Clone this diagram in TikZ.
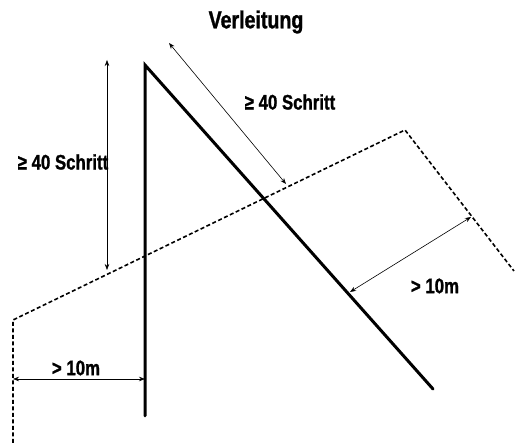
\documentclass[tikz,border=0pt]{standalone}
\usepackage{fontspec}
\setmainfont{Liberation Sans}
\newfontfamily\labfont{Liberation Sans}[FakeStretch=0.8, FakeBold=1.2]
\usetikzlibrary{arrows.meta}

\begin{document}
\begin{tikzpicture}[x=1pt, y=-1pt,
    pfad/.style={line width=3pt, line cap=round},
    grenze/.style={line width=1.6pt, dash pattern=on 4pt off 2.5pt},
    mass/.style={{Stealth[length=6pt, width=4.5pt]}-{Stealth[length=6pt, width=4.5pt]}, line width=0.6pt},
    beschr/.style={font=\labfont\bfseries\fontsize{21}{25}\selectfont, inner sep=0pt},
    titel/.style={font=\labfont\bfseries\fontsize{24.5}{28}\selectfont, inner sep=0pt}
]
\useasboundingbox (0,0) rectangle (515,443);
% Verleitung (Fährte)
\coordinate (spitze) at (145,65);
\coordinate (fussA) at (145,416);
\coordinate (fussB) at (433,389);
\draw[pfad] (fussA) -- (spitze) -- (fussB);
% Grenze
\coordinate (g1) at (13,443);
\coordinate (g2) at (13,320);
\coordinate (g3) at (405,130);
\coordinate (g4) at (514,271);
\draw[grenze] (g1) -- (g2) -- (g3) -- (g4);
% Masse
\coordinate (m1a) at (107,60);
\coordinate (m1b) at (107,270);
\draw[mass] (m1a) -- (m1b);
\coordinate (m2a) at (169,43);
\coordinate (m2b) at (286,184);
\draw[mass] (m2a) -- (m2b);
\coordinate (m3a) at (350,292);
\coordinate (m3b) at (471,217);
\draw[mass] (m3a) -- (m3b);
\coordinate (m4a) at (13,379);
\coordinate (m4b) at (145,379);
\draw[mass] (m4a) -- (m4b);
% Beschriftung
\node[titel] (titelText) at (256,22) {Verleitung};
\node[beschr] (schrittOben) at (290,102) {≥ 40 Schritt};
\node[beschr] (schrittLinks) at (63,162) {≥ 40 Schritt};
\node[beschr] (abstandRechts) at (435,286) {> 10m};
\node[beschr] (abstandLinks) at (76,368) {> 10m};
\end{tikzpicture}
\end{document}
